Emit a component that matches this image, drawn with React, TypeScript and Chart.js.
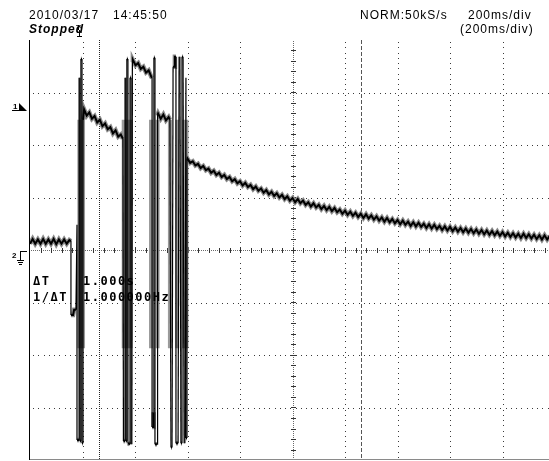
import React, { useEffect, useRef } from "react";
import { Chart, registerables } from "chart.js";

Chart.register(...registerables);

// ---- axis / grid values ----
const timeGridMs = [0, 200, 400, 600, 800, 1000, 1200, 1400, 1600, 1800, 2000];
const voltGridDiv = [-4, -3, -2, -1, 0, 1, 2, 3, 4];
const centerTimeMs = 1000;
const centerVoltDiv = 0;
const visibleTimeMaxMs = 1977;
const cursorTimesMs = [262, 1262];
const sampleStepMs = 10;

// ---- header / readout texts ----
const dateText = "2010/03/17";
const clockText = "14:45:50";
const stateText = "Stopped";
const modeText = "NORM:50kS/s";
const timebaseText = "200ms/div";
const timebaseText2 = "(200ms/div)";
const deltaLabels = ["\u0394T", "1/\u0394T"];
const deltaValues = ["1.000s", "1.000000Hz"];

// ---- CH1 trace (time ms, volts in divisions) ----
const preTriggerStartMs = 0;
const preTriggerVolts = [0.12, 0.21, 0.12, 0.2, 0.12, 0.21, 0.12, 0.2, 0.12, 0.21, 0.11, 0.2, 0.12, 0.2, 0.12, 0.19];

const burst1Times = [156, 156, 164, 168, 175, 179, 179, 187, 187, 190, 190, 194, 194, 198, 198, 202, 202];
const burst1Volts = [0.17, -1.24, -1.24, -1.14, -1.14, 0.48, -3.62, -3.62, 3.28, 3.28, -3.64, -3.64, 3.64, 3.64, -3.68, -3.68, 2.48];

const plateau1StartMs = 206;
const plateau1Volts = [2.68, 2.56, 2.62, 2.5, 2.55, 2.43, 2.48, 2.36, 2.41, 2.3, 2.34, 2.22, 2.28, 2.16, 2.2];

const burst2Times = [354, 356, 362, 362, 365, 365, 369, 369, 373, 373, 381, 381, 385, 385, 388, 390];
const burst2Volts = [2.12, -3.64, -3.64, 3.28, 3.28, -3.64, -3.64, 3.64, 3.64, -3.68, -3.7, 3.28, 3.28, -3.7, -3.7, 3.58];

const plateau2StartMs = 392;
const plateau2Volts = [3.62, 3.52, 3.56, 3.45, 3.49, 3.38, 3.42, 3.3];

const burst3Times = [465, 465, 469, 469, 472, 472, 476, 476, 484, 486];
const burst3Volts = [3.28, -3.37, -3.37, -3.09, -3.09, 3.66, 3.66, -3.7, -3.7, 2.57];

const plateau3StartMs = 488;
const plateau3Volts = [2.6, 2.5, 2.58, 2.47, 2.53];

const burst4Times = [533, 537, 541, 545, 549, 552, 556, 556, 564, 568, 571, 575, 579, 579, 583, 587, 590, 594, 594, 598, 598];
const burst4Volts = [2.48, -3.76, -3.76, 3.49, 3.49, 3.68, 3.68, -3.68, -3.68, 3.68, 3.68, -3.68, -3.68, 3.68, 3.68, -3.68, -3.68, 3.28, -3.58, -3.58, 1.7];

const decayStartMs = 600;
const decayVolts = [
  1.74, 1.66, 1.69, 1.61, 1.64, 1.56, 1.6, 1.52, 1.55, 1.47, 1.51, 1.43, 1.47, 1.39, 1.43, 1.35, 1.39, 1.31, 1.35, 1.27,
  1.31, 1.23, 1.28, 1.2, 1.24, 1.16, 1.21, 1.13, 1.17, 1.09, 1.14, 1.06, 1.11, 1.03, 1.08, 1.0, 1.05, 0.97, 1.02, 0.94,
  0.99, 0.91, 0.97, 0.89, 0.94, 0.86, 0.91, 0.83, 0.89, 0.81, 0.86, 0.78, 0.84, 0.76, 0.82, 0.74, 0.8, 0.72, 0.77, 0.69,
  0.75, 0.67, 0.73, 0.65, 0.71, 0.63, 0.69, 0.61, 0.68, 0.6, 0.66, 0.58, 0.64, 0.56, 0.62, 0.54, 0.61, 0.53, 0.59, 0.51,
  0.57, 0.49, 0.56, 0.48, 0.54, 0.46, 0.53, 0.45, 0.52, 0.44, 0.5, 0.42, 0.49, 0.41, 0.48, 0.4, 0.46, 0.38, 0.45, 0.37,
  0.44, 0.36, 0.43, 0.35, 0.42, 0.34, 0.41, 0.33, 0.4, 0.32, 0.39, 0.31, 0.38, 0.3, 0.37, 0.29, 0.36, 0.28, 0.35, 0.27,
  0.34, 0.26, 0.33, 0.25, 0.32, 0.24, 0.31, 0.23, 0.31, 0.23, 0.3, 0.22, 0.29, 0.21, 0.28, 0.2, 0.28, 0.2, 0.27, 0.19,
];

// grey persistence band inside the bursts
const greyBarTimes = [188, 193, 198, 202, 357, 363, 372, 383, 461, 486, 533, 561, 587, 596];
const greyBandTop = 2.48;
const greyBandBottom = -1.87;

type Pt = { x: number; y: number | null };

function buildTrace(): Pt[] {
  const pts: Pt[] = [];
  const addRegular = (start: number, volts: number[]) =>
    volts.forEach((v, i) => pts.push({ x: start + i * sampleStepMs, y: v }));
  const addPairs = (times: number[], volts: number[]) =>
    times.forEach((t, i) => pts.push({ x: t, y: volts[i] }));
  addRegular(preTriggerStartMs, preTriggerVolts);
  addPairs(burst1Times, burst1Volts);
  addRegular(plateau1StartMs, plateau1Volts);
  addPairs(burst2Times, burst2Volts);
  addRegular(plateau2StartMs, plateau2Volts);
  addPairs(burst3Times, burst3Volts);
  addRegular(plateau3StartMs, plateau3Volts);
  addPairs(burst4Times, burst4Volts);
  addRegular(decayStartMs, decayVolts);
  return pts;
}

function buildGreyBars(): Pt[] {
  const pts: Pt[] = [];
  greyBarTimes.forEach((t) => {
    pts.push({ x: t, y: greyBandTop });
    pts.push({ x: t, y: greyBandBottom });
    pts.push({ x: t, y: null });
  });
  return pts;
}

const isSteep = (c: any) => Math.abs(c.p1.parsed.y - c.p0.parsed.y) > 1;

const FONT = '"Liberation Sans", Arial, sans-serif';
const MONO = '"DejaVu Sans Mono", monospace';

const scopeBackground = {
  id: "scopeBackground",
  beforeDatasetsDraw(chart: any) {
    const { ctx, chartArea: a, scales } = chart;
    const xs = scales.x;
    const ys = scales.y;
    ctx.save();
    // frame
    ctx.fillStyle = "#000";
    ctx.fillRect(Math.round(a.left) - 1, Math.round(a.top), 1, Math.round(a.bottom - a.top));
    ctx.fillStyle = "#8a8a8a";
    ctx.fillRect(Math.round(a.left), Math.round(a.bottom) - 1, Math.round(a.right - a.left), 1);

    // dotted grid
    ctx.fillStyle = "#3a3a3a";
    timeGridMs.forEach((t) => {
      if (t === centerTimeMs || t === 0) return;
      const px = Math.round(xs.getPixelForValue(t));
      if (px >= a.right) return;
      for (let py = a.top + 2; py < a.bottom - 1; py += 5.25) ctx.fillRect(px, Math.round(py), 1, 1);
    });
    voltGridDiv.forEach((v) => {
      if (v === centerVoltDiv || Math.abs(v) === 4) return;
      const py = Math.round(ys.getPixelForValue(v));
      for (let px = a.left + 3; px < a.right; px += 5.25) ctx.fillRect(Math.round(px), py, 1, 1);
    });

    // centre cross with minor ticks
    const cx = Math.round(xs.getPixelForValue(centerTimeMs));
    const cy = Math.round(ys.getPixelForValue(centerVoltDiv));
    ctx.fillStyle = "#6a6a6a";
    for (let px = a.left + 1; px < a.right; px += 2) ctx.fillRect(Math.round(px), cy, 1, 1);
    for (let py = a.top + 1; py < a.bottom - 1; py += 2) ctx.fillRect(cx, Math.round(py), 1, 1);
    ctx.fillStyle = "#333";
    for (let t = 40; t < visibleTimeMaxMs; t += 40) {
      const px = Math.round(xs.getPixelForValue(t));
      ctx.fillRect(px, cy - 2, 1, 5);
    }
    for (let v = -3.8; v < 4; v += 0.2) {
      const py = Math.round(ys.getPixelForValue(v));
      ctx.fillRect(cx - 2, py, 5, 1);
    }

    // cursors
    const c1 = Math.round(xs.getPixelForValue(cursorTimesMs[0]));
    ctx.fillStyle = "#222";
    for (let py = a.top; py < a.bottom - 1; py += 2) ctx.fillRect(c1, py, 1, 1);
    const c2 = Math.round(xs.getPixelForValue(cursorTimesMs[1]));
    ctx.fillStyle = "#555";
    for (let py = a.top; py < a.bottom - 1; py += 6) ctx.fillRect(c2, py, 1, 4);
    ctx.restore();
  },
  afterDatasetsDraw(chart: any) {
    const { ctx } = chart;
    ctx.save();
    // delta readout
    ctx.fillStyle = "#000";
    ctx.font = `bold 12px ${MONO}`;
    (ctx as any).letterSpacing = "1.5px";
    ctx.textBaseline = "alphabetic";
    ctx.fillText(deltaLabels[0], 33, 285);
    ctx.fillText(deltaLabels[1], 33, 301);
    ctx.fillText(deltaValues[0], 83, 285);
    ctx.fillText(deltaValues[1], 83, 301);
    ctx.restore();
  },
  afterDraw(chart: any) {
    const { ctx } = chart;
    ctx.save();
    ctx.fillStyle = "#000";
    ctx.textBaseline = "alphabetic";
    ctx.font = `12px ${FONT}`;
    (ctx as any).letterSpacing = "1px";
    ctx.fillText(dateText, 29, 19);
    ctx.fillText(clockText, 113, 19);
    ctx.fillText(modeText, 360, 19);
    ctx.fillText(timebaseText, 468, 19);
    ctx.fillText(timebaseText2, 460, 33);
    ctx.font = `italic bold 12px ${FONT}`;
    ctx.fillText(stateText, 29, 33);

    // trigger position marker
    (ctx as any).letterSpacing = "0px";
    ctx.font = `bold 8px ${FONT}`;
    ctx.fillText("T", 76, 30);
    ctx.fillRect(79, 30, 1, 7);
    ctx.fillRect(77, 36, 5, 1);

    // CH1 marker
    ctx.font = `bold 8px ${FONT}`;
    ctx.fillText("1", 13, 109);
    ctx.fillRect(12, 110, 8, 1);
    ctx.beginPath();
    ctx.moveTo(19, 103);
    ctx.lineTo(27, 111);
    ctx.lineTo(19, 111);
    ctx.closePath();
    ctx.fill();

    // CH2 ground marker
    ctx.fillText("2", 12, 258);
    ctx.fillRect(20, 251, 7, 1);
    ctx.fillRect(20, 251, 1, 9);
    ctx.fillRect(17, 260, 7, 1);
    ctx.fillRect(18, 262, 5, 1);
    ctx.fillRect(19, 264, 3, 1);
    ctx.restore();
  },
};

export default function App() {
  const ref = useRef<HTMLCanvasElement | null>(null);
  useEffect(() => {
    if (!ref.current) return;
    const trace = buildTrace();
    const chart = new Chart(ref.current, {
      type: "line",
      data: {
        datasets: [
          {
            label: "CH1",
            data: trace.map((p) => ({ ...p })) as any,
            borderColor: "#000",
            borderWidth: 2,
            pointRadius: 0,
            order: 0,
            segment: {
              borderWidth: (c: any) => (isSteep(c) ? 1.2 : 2),
            },
          },
          {
            label: "CH1 halo",
            data: trace.map((p) => ({ ...p })) as any,
            borderColor: "#8c8c8c",
            borderWidth: 4.5,
            pointRadius: 0,
            order: 1,
            segment: {
              borderColor: (c: any) => (isSteep(c) ? "rgba(0,0,0,0)" : "#8c8c8c"),
            },
          },
          {
            label: "CH1 persistence",
            data: buildGreyBars() as any,
            borderColor: "#9a9a9a",
            borderWidth: 4,
            pointRadius: 0,
            spanGaps: false,
            order: 2,
          },
        ],
      },
      options: {
        animation: false,
        responsive: false,
        devicePixelRatio: 1,
        layout: { padding: { left: 30, top: 40, right: 0, bottom: 1 } },
        elements: { line: { tension: 0 } },
        scales: {
          x: { type: "linear", min: 0, max: visibleTimeMaxMs, display: false },
          y: { type: "linear", min: -4, max: 4, display: false },
        },
        plugins: { legend: { display: false }, tooltip: { enabled: false } },
      },
      plugins: [scopeBackground],
    });
    return () => chart.destroy();
  }, []);
  return (
    <div style={{ position: "absolute", left: 0, top: 0, width: 549, height: 461, background: "#fff" }}>
      <canvas ref={ref} width={549} height={461} style={{ display: "block" }} />
    </div>
  );
}
